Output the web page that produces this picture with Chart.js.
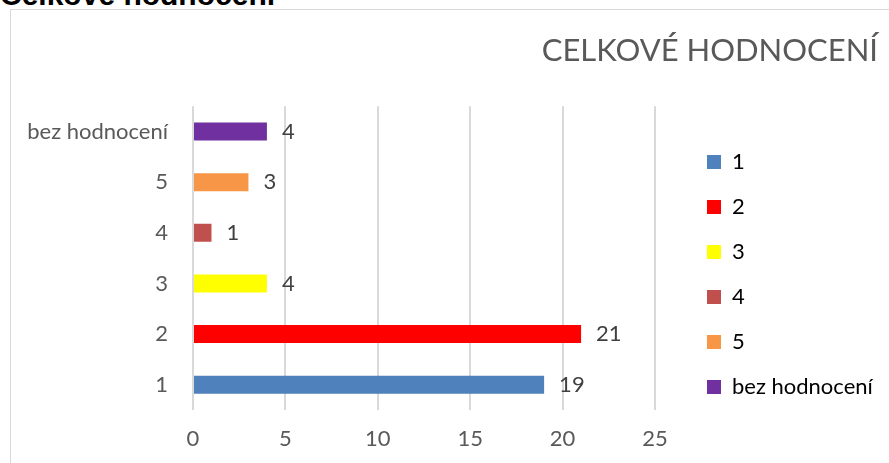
<!DOCTYPE html>
<html>
<head>
<meta charset="utf-8">
<script src="https://cdn.jsdelivr.net/npm/chart.js@4"></script>
<style>
  body { margin: 0; width: 889px; height: 463px; overflow: hidden; background: #fff; position: relative; }
  #heading { position: absolute; left: 0; top: -20px; font: bold 30px "Liberation Sans", Arial, sans-serif; line-height: 30px; color: #000; white-space: nowrap; }
  #frame { position: absolute; left: 10px; top: 9px; width: 1000px; height: 1000px; border: 1px solid #d9d9d9; }
  #chart { position: absolute; left: 0; top: 0; }
</style>
</head>
<body>
<div id="heading">Celkové hodnocení</div>
<div id="frame"></div>
<canvas id="chart" width="889" height="463"></canvas>
<script>
const categories = ['1', '2', '3', '4', '5', 'bez hodnocení'];
const counts = [19, 21, 4, 1, 3, 4];
const barColors = ['#4F81BD', '#FF0000', '#FFFF00', '#C0504D', '#F79646', '#7030A0'];
const xTicks = [0, 5, 10, 15, 20, 25];

Chart.defaults.font.family = 'Lato';
Chart.defaults.color = '#595959';

// value next to the end of each bar
const valueLabels = {
  id: 'valueLabels',
  afterDatasetsDraw(chart) {
    const ctx = chart.ctx;
    const meta = chart.getDatasetMeta(0);
    ctx.save();
    ctx.font = '22px Lato';
    ctx.fillStyle = '#404040';
    ctx.textBaseline = 'middle';
    ctx.textAlign = 'left';
    meta.data.forEach((bar, i) => ctx.fillText(counts[i], bar.x + 15, bar.y));
    ctx.restore();
  }
};

// Excel leaves a wide gap between plot and legend, nudge the legend box there
const legendSpot = {
  id: 'legendSpot',
  afterInit(chart) {
    const lg = chart.legend;
    const fit = lg.fit;
    lg.fit = function () { fit.call(this); this.width = 223; };
  },
  afterLayout(chart) {
    const lg = chart.legend;
    lg.left += 29;
    lg.right += 29;
    lg.top = 128;
    lg.bottom = lg.top + lg.height;
  }
};

new Chart(document.getElementById('chart'), {
  type: 'bar',
  data: {
    labels: categories,
    datasets: [{
      data: counts,
      backgroundColor: barColors,
      barPercentage: 0.355,
      categoryPercentage: 1
    }]
  },
  options: {
    indexAxis: 'y',
    responsive: false,
    animation: false,
    layout: { padding: { left: 0, right: 11, top: 0, bottom: 0 } },
    scales: {
      x: {
        min: xTicks[0],
        max: xTicks[xTicks.length - 1],
        afterFit(scale) { scale.height = 53; },
        ticks: { stepSize: xTicks[1] - xTicks[0], padding: 16, font: { size: 22 }, color: '#595959' },
        grid: { color: '#d9d9d9', lineWidth: 2, drawTicks: false },
        border: { display: false }
      },
      y: {
        reverse: true,
        afterFit(scale) { scale.width = 193; },
        ticks: { padding: 25, font: { size: 22 }, color: '#595959' },
        grid: { display: false, drawTicks: false },
        border: { display: false }
      }
    },
    plugins: {
      title: {
        display: true,
        text: 'CELKOVÉ HODNOCENÍ',
        align: 'end',
        color: '#595959',
        font: { size: 31, weight: 'normal' },
        padding: { top: 32, bottom: 37 }
      },
      legend: {
        position: 'right',
        align: 'start',
        labels: {
          boxWidth: 14,
          boxHeight: 14,
          padding: 23,
          color: '#595959',
          font: { size: 22 },
          generateLabels: () => categories.map((c, i) => ({
            text: c,
            fillStyle: barColors[i],
            strokeStyle: barColors[i],
            lineWidth: 0,
            hidden: false,
            index: i
          }))
        }
      },
      tooltip: { enabled: false }
    }
  },
  plugins: [valueLabels, legendSpot]
});
</script>
</body>
</html>
